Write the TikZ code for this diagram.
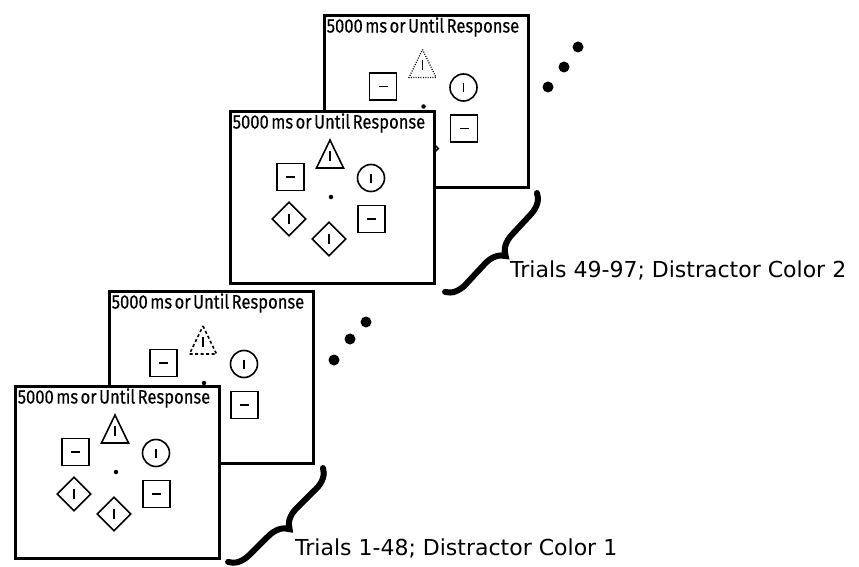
\documentclass[tikz,border=0pt]{standalone}
\usepackage{fontspec}
\setmainfont{Fira Sans}
\newfontfamily\titlefont[FakeStretch=0.85, WordSpace=0.55, FakeBold=0.3]{Fira Sans}
\newfontfamily\labelfont{DejaVu Sans}
\usetikzlibrary{shapes.geometric,decorations.pathreplacing}

\tikzset{
	screen/.style={draw, line width=2.6pt, fill=white, minimum width=204pt, minimum height=172pt, anchor=north west, inner sep=0pt},
	stroke/.style={line width=1.6pt},
	tri/.style={},
	lift/.style={},
	box/.style={draw, stroke, rectangle, minimum size=27pt, inner sep=0pt},
	ring/.style={draw, stroke, circle, minimum size=27pt, inner sep=0pt},
	gem/.style={draw, stroke, diamond, minimum size=34pt, inner sep=0pt},
	fixdot/.style={circle, fill, inner sep=0pt, minimum size=4.5pt},
	bigdot/.style={circle, fill, inner sep=0pt, minimum size=11pt},
	curly/.style={decorate, decoration={brace, amplitude=20pt}, line width=6pt, line cap=round},
	trials/.style={font=\labelfont\fontsize{22}{24}\selectfont, anchor=west, inner sep=0pt},
	pics/display/.style={code={
		\node[screen] (-frame) at (0,0) {};
		\node[font=\titlefont\fontsize{19.5}{20}\selectfont, inner sep=0pt] (-title) at (100,13) {5000 ms or Until Response};
		\begin{scope}[lift]
		\draw[stroke, tri] (101,30) -- (114.5,58) -- (87.5,58) -- cycle; % Target triangle.
		\draw[stroke] (101,41) -- (101,51);
		\node[box] (-boxL) at (61.5,67) {};
		\draw[stroke] (-boxL.center) +(-4.5,0) -- +(4.5,0);
		\node[ring] (-ring) at (142,68) {};
		\draw[stroke] (-ring.center) +(0,-4.5) -- +(0,4.5);
		\node[fixdot] (-fix) at (102,87) {};
		\node[gem] (-gemL) at (60,109) {};
		\draw[stroke] (-gemL.center) +(0,-5) -- +(0,5);
		\node[box] (-boxR) at (142.5,109) {};
		\draw[stroke] (-boxR.center) +(-4.5,0) -- +(4.5,0);
		\node[gem] (-gemB) at (100,129) {};
		\draw[stroke] (-gemB.center) +(0,-5) -- +(0,5);
		\end{scope}
	}}
}

\begin{document}
\begin{tikzpicture}[x=1pt, y=-1pt]
	\useasboundingbox (0,0) rectangle (859,567);

	% Block 2
	\pic[tri/.style={line width=1.2pt, dash pattern=on 1pt off 1.4pt}, lift/.style={shift={(-1.5,5.5)}}] (backA) at (323,14) {display};
	\node[bigdot] (moreA1) at (548,87) {};
	\node[bigdot] (moreA2) at (564,67) {};
	\node[bigdot] (moreA3) at (578,47) {};
	\pic (frontB) at (229,110) {display};
	\coordinate (braceA1) at (537,193);
	\coordinate (braceA2) at (445,292);
	\draw[curly] (braceA1) -- (braceA2);
	\node[trials] (trialsB) at (510,270) {Trials 49-97; Distractor Color 2};

	% Block 1
	\pic[tri/.style={dash pattern=on 3pt off 2.5pt}, lift/.style={shift={(-6,6)}}] (backC) at (108,290) {display};
	\node[bigdot] (moreC1) at (334,360) {};
	\node[bigdot] (moreC2) at (350,339) {};
	\node[bigdot] (moreC3) at (366,322) {};
	\pic (frontD) at (14,385) {display};
	\coordinate (braceC1) at (323,468);
	\coordinate (braceC2) at (228,562);
	\draw[curly] (braceC1) -- (braceC2);
	\node[trials] (trialsD) at (295,548) {Trials 1-48; Distractor Color 1};
\end{tikzpicture}
\end{document}
